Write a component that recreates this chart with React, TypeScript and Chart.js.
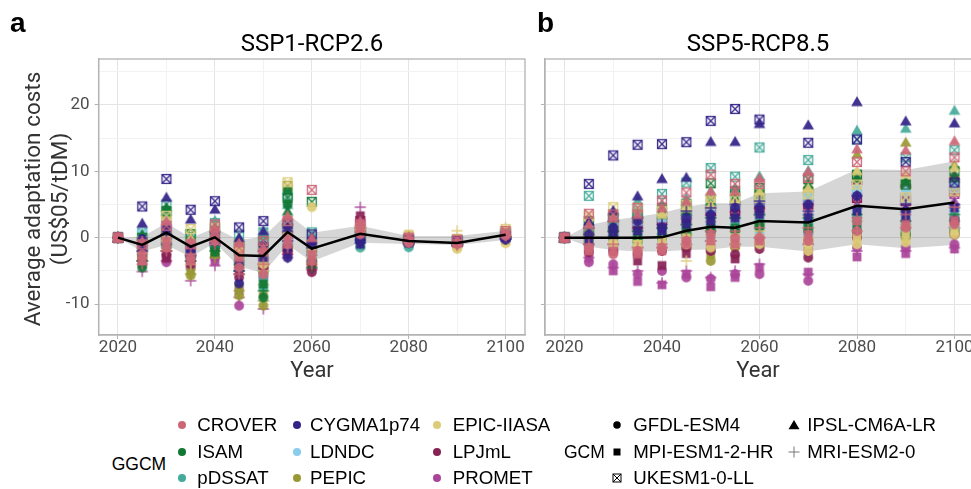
import React, { useEffect, useRef } from "react";
import { Chart, registerables } from "chart.js";
Chart.register(...registerables);

// ---------------- DATA ----------------
const YEARS = [2020, 2025, 2030, 2035, 2040, 2045, 2050, 2055, 2060, 2070, 2080, 2090, 2100];
const GGCMS = ["CROVER", "CYGMA1p74", "EPIC-IIASA", "ISAM", "LDNDC", "LPJmL", "pDSSAT", "PEPIC", "PROMET"];
const GGCM_COLORS = ["#CC6677", "#332288", "#DDCC77", "#117733", "#88CCEE", "#882255", "#44AA99", "#999933", "#AA4499"];
const GCMS = ["GFDL-ESM4", "MPI-ESM1-2-HR", "UKESM1-0-LL", "IPSL-CM6A-LR", "MRI-ESM2-0"];
const GCM_SHAPES = ["circle", "square", "boxcross", "triangle", "plus"];
const X_TICKS = [2020, 2040, 2060, 2080, 2100];
const Y_TICKS = [-10, 0, 10, 20];

// SSP1-RCP2.6 : per GGCM, rows = GFDL, MPI, UKESM, IPSL, MRI
const SSP1_CROVER = [
  [0, -2.5, -1.5, -3.0, -0.5, -4.5, -5.5, -1.0, -3.5, 0.5, -0.8, -1.0, 0.3],
  [0, -3.5, -0.5, -3.5, 0.5, -3.0, -2.2, 0.0, -2.5, 1.5, -0.5, -0.8, 0.5],
  [0, -1.0, 1.8, -1.0, 2.0, -1.5, -0.5, 2.5, 7.2, 2.0, 0.0, -0.3, 1.0],
  [0, -0.5, 2.5, -0.5, 1.5, -0.8, -1.5, 3.3, 0.0, 2.5, 0.2, -0.5, 0.8],
  [0, -4.0, -2.0, -2.5, -1.0, -5.5, -4.0, -1.5, -4.0, 1.0, -0.7, -1.2, 0.2],
];
const SSP1_CYGMA = [
  [0, -0.2, 1.5, -2.0, 0.65, -6.9, -1.2, -3.0, -1.0, -0.5, -0.6, -0.8, -0.3],
  [0, -1.5, 1.05, -1.5, -0.5, -4.0, -3.0, -1.5, -0.5, -1.0, -0.8, -0.7, 0.0],
  [0, 4.7, 8.85, 4.2, 5.5, 1.55, 2.5, 2.1, 0.5, 0.0, -0.3, -0.5, 0.2],
  [0, 2.2, 6.1, 2.8, 4.3, 0.0, 1.05, 1.5, -0.2, 0.3, -0.4, -0.6, 0.4],
  [0, -2.0, 0.5, -2.8, -0.8, -5.0, -2.0, -0.5, -1.5, -0.8, -0.7, -0.9, -0.2],
];
const SSP1_EPIC = [
  [0, -2.0, 0.0, -1.5, 0.5, -3.5, -4.0, 0.5, 4.6, 0.5, -0.3, -1.7, -0.85],
  [0, -1.8, 1.0, -2.0, 0.8, -2.5, -3.0, 1.0, -2.0, 1.0, 0.55, -1.3, -0.5],
  [0, -0.5, 3.3, 1.3, 1.5, -1.0, -2.0, 8.35, -0.5, 1.5, 0.3, -0.2, 1.3],
  [0, -1.0, 2.0, 0.0, 1.0, -1.5, -3.5, 3.0, -1.0, 2.0, 0.0, 0.0, 1.0],
  [0, -3.0, -0.5, -4.0, -0.5, -4.5, -5.0, -1.0, -3.0, 0.0, -0.5, 1.05, 1.55],
];
const SSP1_ISAM = [
  [0, -4.5, 0.0, -3.0, -1.5, -4.0, -9.0, 5.0, -3.5, -0.2, -0.7, -1.0, 0.0],
  [0, -2.5, 0.5, -2.5, -2.2, -3.0, -7.0, 7.1, -2.0, 0.5, -0.5, -0.8, 0.2],
  [0, 0.0, 4.0, 0.5, 1.0, -1.0, -0.5, 6.0, 5.4, 1.0, 0.0, -0.3, 0.5],
  [0, 0.5, 4.6, 0.0, 1.5, -0.5, -1.0, 4.0, -0.5, 1.5, -0.2, -0.5, 0.6],
  [0, -3.5, -1.0, -3.5, -2.0, -5.0, -8.0, 2.0, -4.5, 0.2, -0.6, -0.9, 0.1],
];
const SSP1_LDNDC = [
  [0, -1.5, -0.5, -2.0, -1.0, -3.0, -2.5, -0.5, -2.5, 0.0, -0.6, -0.8, 0.2],
  [0, -1.0, 0.0, -1.5, -0.5, -2.5, -2.0, 0.0, -2.0, 0.5, -0.4, -0.6, 0.3],
  [0, 0.5, 2.0, 0.0, 1.0, -1.5, -1.0, 1.5, -0.5, 1.0, -0.2, -0.4, 0.6],
  [0, 0.0, 2.5, -0.5, 1.5, -1.0, -1.5, 2.5, -1.0, 1.2, -0.3, -0.5, 0.5],
  [0, -2.0, -1.0, -2.5, -1.5, -3.5, -3.0, -1.0, -3.0, 0.3, -0.5, -0.7, 0.2],
];
const SSP1_LPJML = [
  [0, -3.0, -2.5, -4.0, -1.5, -6.0, -4.5, -2.0, -5.2, 1.0, -0.8, -1.1, 0.0],
  [0, -2.5, -3.1, -3.0, -1.0, -5.0, -3.5, -1.5, -4.5, 3.3, -0.6, -0.9, 0.3],
  [0, -1.0, -0.5, -1.5, 0.5, -2.0, -1.5, 1.0, -2.0, 2.5, -0.2, -0.5, 0.7],
  [0, -1.5, 0.0, -2.0, 0.0, -3.0, -2.5, 0.5, -3.0, 2.0, -0.4, -0.7, 0.5],
  [0, -3.5, -2.0, -3.5, -1.2, -5.5, -4.0, -2.5, -4.8, 1.5, -0.7, -1.0, 0.1],
];
const SSP1_PDSSAT = [
  [0, -2.0, -1.0, -2.5, -0.5, -3.5, -7.5, -0.5, -3.0, -1.5, -1.45, -1.0, 0.0],
  [0, -1.5, 0.0, -2.0, 0.0, -3.0, -6.0, 1.0, -2.5, -1.0, -1.0, -0.8, 0.2],
  [0, 0.8, 5.0, 0.55, 2.2, 0.45, 0.8, 6.3, 0.8, 0.8, -0.2, -0.3, 0.8],
  [0, 0.3, 4.0, 0.0, 2.6, -0.3, 0.5, 5.0, 0.3, 0.5, -0.4, -0.5, 0.6],
  [0, -2.5, -1.5, -3.0, -1.0, -4.0, -5.0, -1.0, -3.5, -0.5, -0.8, -0.9, 0.1],
];
const SSP1_PEPIC = [
  [0, -3.0, -1.5, -5.7, -2.5, -8.7, -10.25, -1.5, -4.0, 0.0, -0.6, -0.9, 0.0],
  [0, -2.5, -1.0, -5.0, -2.0, -7.5, -8.5, -1.0, -3.5, 0.3, -0.5, -0.8, 0.2],
  [0, -0.5, 2.5, 0.5, 1.0, -2.5, -4.7, 7.8, -1.0, 1.0, -0.2, -0.4, 0.6],
  [0, -1.0, 1.5, -1.0, 0.5, -3.5, -6.5, 2.5, -1.5, 0.8, -0.3, -0.6, 0.4],
  [0, -3.5, -2.0, -5.5, -3.0, -8.0, -9.5, -2.0, -4.0, -0.3, -0.7, -1.0, 0.0],
];
const SSP1_PROMET = [
  [0, -4.0, -3.7, -4.5, -3.0, -10.25, -6.0, -2.5, -4.0, 0.5, -0.9, -1.2, 0.0],
  [0, -3.5, -3.0, -4.0, -3.6, -8.0, -5.0, -2.0, -3.5, 1.0, -0.7, -1.0, 0.2],
  [0, -1.0, 1.0, -1.0, 0.5, -3.0, -3.0, 1.0, -1.0, 2.0, -0.3, -0.5, 0.5],
  [0, -1.5, 0.5, -2.0, 0.0, -4.0, -4.0, 0.5, -2.0, 1.5, -0.4, -0.6, 0.4],
  [0, -5.1, -3.5, -6.5, -4.2, -9.0, -10.75, -3.0, -4.5, 4.6, -0.8, -1.1, 0.1],
];
const SSP1_MEAN = [0, -1.1, 0.75, -1.35, 0.05, -2.65, -2.75, 0.85, -1.65, 0.6, -0.5, -0.8, 0.45];
const SSP1_LOW = [0, -2.1, -1.1, -2.9, -0.8, -4.4, -5.3, -1.1, -3.6, -0.75, -0.95, -1.1, -0.35];
const SSP1_HIGH = [0, 0.15, 2.2, 0.0, 1.45, -0.35, 0.15, 3.6, 0.75, 1.8, 0.25, 0.25, 1.05];

// SSP5-RCP8.5
const SSP5_CROVER = [
  [0, -1.5, -2.5, -2.0, -1.5, -0.5, 0.5, 0.0, 0.0, -0.5, 1.0, 1.5, 2.0],
  [0, -2.0, -2.0, -2.5, -2.0, -1.0, -0.5, -1.0, -0.5, 0.5, 2.5, 2.0, 2.6],
  [0, 3.6, 3.5, 4.5, 5.6, 6.8, 9.5, 8.1, 8.1, 9.0, 11.4, 10.0, 12.1],
  [0, 2.0, 3.0, 3.5, 4.5, 5.5, 7.0, 7.0, 9.0, 10.0, 13.4, 13.2, 14.6],
  [0, -1.0, -1.0, -1.5, -1.0, 0.0, 1.0, 1.0, 1.5, 1.5, 3.0, 3.5, 4.6],
];
const SSP5_CYGMA = [
  [0, 0.5, 1.5, 2.5, 1.5, 3.0, 3.5, 4.5, 4.6, 5.0, 6.3, 4.0, 2.6],
  [0, -0.5, 0.5, 1.0, 1.0, 2.0, 2.5, 3.0, 3.5, 3.0, 4.0, 3.0, 4.5],
  [0, 8.1, 12.4, 14.0, 14.1, 14.4, 17.6, 19.4, 17.8, 14.3, 14.8, 11.4, 8.3],
  [0, 2.5, 4.1, 6.3, 8.9, 9.1, 14.5, 14.5, 17.2, 17.0, 20.5, 17.6, 17.3],
  [0, 1.5, 2.5, 3.0, 2.0, 4.0, 4.5, 5.0, 5.5, 4.0, 6.3, 5.0, 5.0],
];
const SSP5_EPIC = [
  [0, -0.5, -1.0, -1.5, -1.5, -1.0, -1.5, -1.0, -1.0, -2.0, -1.0, -0.7, 0.5],
  [0, 0.5, -0.5, -1.0, -0.5, 0.0, -0.5, 0.0, 0.0, -1.0, 0.0, 0.5, 1.0],
  [0, 3.2, 4.6, 4.5, 4.0, 5.0, 6.0, 6.0, 6.0, 6.5, 8.0, 6.1, 7.0],
  [0, 2.0, 3.0, 3.0, 3.5, 4.5, 5.0, 5.5, 7.0, 7.5, 10.1, 9.6, 10.6],
  [0, 0.0, 0.0, -0.5, 0.0, -3.5, 0.5, 0.5, 1.0, 0.0, 1.0, 1.5, 2.0],
];
const SSP5_ISAM = [
  [0, -0.5, 0.0, -0.5, 0.0, 0.5, 1.0, 1.0, 1.5, 1.0, 1.0, 0.5, 1.0],
  [0, 0.0, 0.5, 0.0, 0.5, 1.0, 1.5, 1.5, 2.0, 1.5, 2.0, 1.0, 2.5],
  [0, 2.5, 3.0, 3.5, 4.5, 5.1, 8.2, 7.0, 7.5, 8.8, 9.5, 8.0, 10.0],
  [0, 1.5, 2.0, 3.0, 3.5, 4.0, 5.5, 6.0, 7.0, 8.0, 9.0, 8.5, 9.0],
  [0, 0.5, 1.0, 1.0, 1.5, 2.0, 3.0, 3.0, 3.5, 3.0, 3.5, 2.5, 3.5],
];
const SSP5_LDNDC = [
  [0, -0.8, -1.0, -1.5, -1.0, -0.5, 0.0, 0.0, 0.5, 0.5, 1.5, 1.0, 1.5],
  [0, -0.3, -0.5, -1.0, -0.5, 0.0, 0.5, 0.5, 1.0, 1.0, 2.0, 1.5, 2.0],
  [0, 2.0, 2.5, 3.0, 3.5, 4.0, 5.0, 5.5, 6.0, 6.0, 7.0, 6.0, 7.5],
  [0, 1.5, 2.0, 2.5, 3.0, 3.5, 4.5, 5.0, 5.5, 6.5, 7.7, 7.5, 8.0],
  [0, 0.0, 0.5, 0.0, 0.5, 1.0, 1.5, 2.0, 2.5, 2.5, 4.0, 3.5, 4.0],
];
const SSP5_LPJML = [
  [0, -2.2, -2.0, -2.5, -2.0, -1.5, -2.0, -2.5, -1.7, -3.0, 0.0, 0.5, 0.5],
  [0, -1.5, -1.5, -3.5, -4.2, -2.4, -1.5, -3.2, -1.0, -2.0, 0.5, 1.0, 1.0],
  [0, 1.0, 1.5, 2.0, 2.5, 3.0, 4.0, 4.0, 4.5, 5.0, 6.0, 5.5, 7.0],
  [0, 1.0, 1.5, 2.0, 3.0, 3.5, 4.0, 4.5, 5.0, 5.6, 8.7, 8.2, 9.4],
  [0, -1.0, -1.0, -1.5, -1.5, -1.0, -0.5, -1.0, 0.0, -1.0, 1.0, 1.5, 1.5],
];
const SSP5_PDSSAT = [
  [0, -0.5, 0.0, -0.5, 0.0, 1.0, 1.0, 1.5, 2.0, 2.0, 3.0, 2.5, 3.0],
  [0, 0.0, 0.5, 0.5, 1.0, 1.5, 2.0, 2.0, 2.5, 2.5, 3.5, 3.0, 3.5],
  [0, 6.3, 3.5, 4.0, 6.6, 8.3, 10.5, 9.2, 13.6, 11.7, 14.8, 12.1, 13.2],
  [0, 2.0, 3.0, 5.6, 5.0, 6.0, 7.0, 7.5, 9.3, 10.1, 16.2, 16.5, 19.2],
  [0, 0.5, 1.0, 1.5, 1.5, 2.0, 3.0, 3.0, 3.5, 3.5, 4.5, 4.0, 4.5],
];
const SSP5_PEPIC = [
  [0, -1.0, -1.0, -1.5, -1.0, -1.5, -3.5, -1.5, -1.0, -0.5, 0.0, 0.0, 0.5],
  [0, -0.5, -0.5, -1.0, -0.5, -1.0, -2.5, -1.0, -0.5, 0.0, 1.0, 0.5, 1.0],
  [0, 2.5, 3.0, 3.5, 4.0, 4.5, 5.5, 6.0, 6.5, 7.0, 9.0, 8.0, 8.5],
  [0, 2.0, 2.5, 3.0, 3.5, 4.0, 5.0, 5.5, 6.5, 7.5, 12.6, 14.4, 11.0],
  [0, 0.0, 0.0, 0.0, 0.5, 0.5, 1.0, 1.5, 2.0, 1.5, 2.5, 2.0, 2.5],
];
const SSP5_PROMET = [
  [0, -3.7, -4.0, -5.5, -5.0, -6.0, -6.2, -5.5, -5.5, -6.5, -1.5, -1.5, -1.0],
  [0, -3.0, -5.0, -6.6, -7.1, -5.5, -7.4, -6.0, -4.5, -5.2, -2.9, -2.4, -1.7],
  [0, 1.0, 2.0, 2.5, 3.0, 3.5, 4.0, 4.0, 5.0, 5.0, 6.0, 6.0, 6.6],
  [0, 0.5, 1.0, 1.5, 2.0, 2.5, 3.0, 3.5, 4.0, 4.0, 5.0, 4.5, 5.5],
  [0, -3.0, -4.5, -5.0, -6.8, -5.0, -6.0, -5.0, -4.0, -5.5, -2.0, -2.0, -1.5],
];
const SSP5_MEAN = [0, 0.0, 0.0, 0.0, 0.05, 1.05, 1.65, 1.5, 2.5, 2.3, 4.8, 4.3, 5.3];
const SSP5_LOW = [0, -1.35, -1.85, -2.1, -2.1, -1.85, -1.8, -1.35, -1.35, -2.1, -1.0, -1.6, -1.1];
const SSP5_HIGH = [0, 1.9, 2.65, 3.15, 3.7, 4.65, 5.2, 5.2, 6.7, 6.95, 10.3, 10.2, 11.5];

const SSP1_ALL = [SSP1_CROVER, SSP1_CYGMA, SSP1_EPIC, SSP1_ISAM, SSP1_LDNDC, SSP1_LPJML, SSP1_PDSSAT, SSP1_PEPIC, SSP1_PROMET];
const SSP5_ALL = [SSP5_CROVER, SSP5_CYGMA, SSP5_EPIC, SSP5_ISAM, SSP5_LDNDC, SSP5_LPJML, SSP5_PDSSAT, SSP5_PEPIC, SSP5_PROMET];

// ---------------- STYLE ----------------
const GRID_MAJOR = "#E4E4E4";
const GRID_MINOR = "#F2F2F2";
const BORDER = "#B3B3B3";
const TICK_TEXT = "#4D4D4D";

function makeSymbol(shape: string, color: string, alpha: number): HTMLCanvasElement {
  const S = 16;
  const c = document.createElement("canvas");
  c.width = S;
  c.height = S;
  const ctx = c.getContext("2d")!;
  ctx.globalAlpha = alpha;
  ctx.fillStyle = color;
  ctx.strokeStyle = color;
  const m = S / 2;
  if (shape === "circle") {
    ctx.beginPath();
    ctx.arc(m, m, 4.9, 0, Math.PI * 2);
    ctx.fill();
  } else if (shape === "square") {
    ctx.fillRect(m - 4.4, m - 4.4, 8.8, 8.8);
  } else if (shape === "triangle") {
    ctx.beginPath();
    ctx.moveTo(m, m - 5.6);
    ctx.lineTo(m + 5.8, m + 4.4);
    ctx.lineTo(m - 5.8, m + 4.4);
    ctx.closePath();
    ctx.fill();
  } else if (shape === "plus") {
    ctx.lineWidth = 1.4;
    ctx.beginPath();
    ctx.moveTo(m - 5.6, m);
    ctx.lineTo(m + 5.6, m);
    ctx.moveTo(m, m - 5.6);
    ctx.lineTo(m, m + 5.6);
    ctx.stroke();
  } else {
    ctx.lineWidth = 1.4;
    ctx.strokeRect(m - 4.4, m - 4.4, 8.8, 8.8);
    ctx.beginPath();
    ctx.moveTo(m - 4.4, m - 4.4);
    ctx.lineTo(m + 4.4, m + 4.4);
    ctx.moveTo(m + 4.4, m - 4.4);
    ctx.lineTo(m - 4.4, m + 4.4);
    ctx.stroke();
  }
  return c;
}

const borderPlugin = {
  id: "panelBorder",
  afterDraw(chart: any) {
    const { ctx, chartArea: a } = chart;
    ctx.save();
    ctx.strokeStyle = BORDER;
    ctx.lineWidth = 1.3;
    ctx.strokeRect(a.left, a.top, a.right - a.left, a.bottom - a.top);
    ctx.restore();
  },
};

function buildConfig(all: number[][][], mean: number[], low: number[], high: number[], showY: boolean, yWidth: number, rightPad: number) {
  const datasets: any[] = [];
  datasets.push({
    type: "line",
    data: YEARS.map((x, i) => ({ x, y: high[i] })),
    borderColor: "transparent",
    borderWidth: 0,
    pointRadius: 0,
    fill: "+1",
    backgroundColor: "rgba(0,0,0,0.16)",
    order: 100,
  });
  datasets.push({
    type: "line",
    data: YEARS.map((x, i) => ({ x, y: low[i] })),
    borderColor: "transparent",
    borderWidth: 0,
    pointRadius: 0,
    fill: false,
    order: 100,
  });
  all.forEach((gcmRows, gi) => {
    gcmRows.forEach((vals, si) => {
      const sym = makeSymbol(GCM_SHAPES[si], GGCM_COLORS[gi], 0.92);
      datasets.push({
        type: "scatter",
        label: GGCMS[gi] + " " + GCMS[si],
        data: YEARS.map((x, i) => ({ x, y: vals[i] })),
        pointStyle: sym,
        pointRadius: 4,
        showLine: false,
        clip: false,
        order: 10 + gi,
      });
    });
  });
  datasets.push({
    type: "line",
    data: YEARS.map((x, i) => ({ x, y: mean[i] })),
    borderColor: "#000000",
    borderWidth: 2.5,
    pointRadius: 0,
    fill: false,
    tension: 0,
    order: 0,
  });

  return {
    type: "scatter",
    data: { datasets },
    plugins: [borderPlugin],
    options: {
      responsive: false,
      animation: false,
      events: [],
      layout: { padding: { top: 59, right: rightPad, left: 0, bottom: 0 } },
      plugins: { legend: { display: false }, tooltip: { enabled: false }, title: { display: false } },
      scales: {
        x: {
          type: "linear",
          min: 2016,
          max: 2104,
          afterFit: (s: any) => {
            s.height = 65;
            s.paddingLeft = 0;
            s.paddingRight = 0;
          },
          ticks: {
            stepSize: 10,
            includeBounds: false,
            autoSkip: false,
            maxRotation: 0,
            padding: -1,
            color: TICK_TEXT,
            font: { family: "Roboto", size: 17 },
            callback: (v: number) => (X_TICKS.includes(v) ? String(v) : ""),
          },
          grid: {
            color: (c: any) => (c.tick && X_TICKS.includes(c.tick.value) ? GRID_MAJOR : GRID_MINOR),
            lineWidth: 1,
            tickLength: 4,
            tickColor: (c: any) => (c.tick && X_TICKS.includes(c.tick.value) ? BORDER : "rgba(0,0,0,0)"),
          },
          border: { display: true, color: BORDER, width: 1.3 },
        },
        y: {
          type: "linear",
          min: -14.67,
          max: 26.93,
          afterFit: (s: any) => {
            s.width = yWidth;
            s.paddingTop = 0;
            s.paddingBottom = 0;
          },
          ticks: {
            stepSize: 5,
            includeBounds: false,
            autoSkip: false,
            padding: 5,
            color: TICK_TEXT,
            font: { family: "Roboto", size: 17 },
            callback: (v: number) => (showY && Y_TICKS.includes(v) ? String(v) : ""),
          },
          grid: {
            color: (c: any) => (c.tick && Y_TICKS.includes(c.tick.value) ? GRID_MAJOR : GRID_MINOR),
            lineWidth: 1,
            tickLength: 4,
            tickColor: (c: any) => (c.tick && Y_TICKS.includes(c.tick.value) ? BORDER : "rgba(0,0,0,0)"),
          },
          border: { display: true, color: BORDER, width: 1.3 },
        },
      },
    },
  };
}

function Panel(props: { all: number[][][]; mean: number[]; low: number[]; high: number[]; showY: boolean; yWidth: number; rightPad: number; left: number; width: number }) {
  const ref = useRef<HTMLCanvasElement | null>(null);
  useEffect(() => {
    if (!ref.current) return;
    const chart = new Chart(ref.current, buildConfig(props.all, props.mean, props.low, props.high, props.showY, props.yWidth, props.rightPad) as any);
    return () => chart.destroy();
  }, []);
  return (
    <canvas
      ref={ref}
      width={props.width}
      height={400}
      style={{ position: "absolute", left: props.left, top: 0, width: props.width, height: 400 }}
    />
  );
}

function LegendSymbol({ shape, color, size }: { shape: string; color: string; size: number }) {
  const s = 14;
  const m = 7;
  let el: any = null;
  if (shape === "circle") el = <circle cx={m} cy={m} r={size / 2} fill={color} />;
  else if (shape === "square") el = <rect x={m - size / 2} y={m - size / 2} width={size} height={size} fill={color} />;
  else if (shape === "triangle")
    el = <polygon points={`${m},${m - 5} ${m + 5.5},${m + 4.2} ${m - 5.5},${m + 4.2}`} fill={color} />;
  else if (shape === "plus")
    el = (
      <path d={`M${m - 5.5},${m} L${m + 5.5},${m} M${m},${m - 5.5} L${m},${m + 5.5}`} stroke={color} strokeWidth={1} fill="none" />
    );
  else
    el = (
      <g stroke={color} strokeWidth={1} fill="none">
        <rect x={m - 4} y={m - 4} width={8} height={8} />
        <path d={`M${m - 4},${m - 4} L${m + 4},${m + 4} M${m + 4},${m - 4} L${m - 4},${m + 4}`} />
      </g>
    );
  return (
    <svg width={s} height={s} style={{ position: "absolute", left: -7, top: -7 }}>
      {el}
    </svg>
  );
}

const legendFont = "'Liberation Sans', Arial, sans-serif";

function LegendItem({ sx, tx, cy, label, shape, color, size }: any) {
  return (
    <>
      <div style={{ position: "absolute", left: sx, top: cy, width: 0, height: 0 }}>
        <LegendSymbol shape={shape} color={color} size={size} />
      </div>
      <div
        style={{
          position: "absolute",
          left: tx,
          top: cy - 10,
          height: 20,
          lineHeight: "20px",
          fontSize: 18.7,
          fontFamily: legendFont,
          color: "#000",
          whiteSpace: "nowrap",
        }}
      >
        {label}
      </div>
    </>
  );
}

export default function App() {
  const rows = [425, 451.7, 478];
  const ggcmSX = [181.7, 296.5, 437];
  const ggcmTX = [197.3, 310, 452.7];
  const gcmPos = [
    { sx: 617, tx: 633.3, cy: rows[0], i: 0 },
    { sx: 794, tx: 807.3, cy: rows[0], i: 3 },
    { sx: 617, tx: 633.3, cy: rows[1], i: 1 },
    { sx: 794, tx: 807.3, cy: rows[1], i: 4 },
    { sx: 617, tx: 633.3, cy: rows[2], i: 2 },
  ];
  const textBase: any = { position: "absolute", whiteSpace: "nowrap" };
  return (
    <div style={{ position: "fixed", left: 0, top: 0, width: 971, height: 489, overflow: "hidden", background: "#fff" }}>
      <Panel all={SSP1_ALL} mean={SSP1_MEAN} low={SSP1_LOW} high={SSP1_HIGH} showY={true} yWidth={98.6} rightPad={4.6} left={0} width={530} />
      <Panel all={SSP5_ALL} mean={SSP5_MEAN} low={SSP5_LOW} high={SSP5_HIGH} showY={false} yWidth={15} rightPad={3.3} left={530} width={449} />

      {/* panel letters */}
      <div style={{ ...textBase, left: 10, top: 9, fontSize: 28, lineHeight: "28px", fontWeight: "bold", fontFamily: legendFont, color: "#000" }}>a</div>
      <div style={{ ...textBase, left: 537, top: 9, fontSize: 28, lineHeight: "28px", fontWeight: "bold", fontFamily: legendFont, color: "#000" }}>b</div>

      {/* panel titles */}
      <div style={{ ...textBase, left: 312, top: 42.5 - 12, transform: "translateX(-50%)", fontSize: 24, lineHeight: "24px", fontFamily: "Roboto", color: "#000" }}>SSP1-RCP2.6</div>
      <div style={{ ...textBase, left: 758, top: 42.5 - 12, transform: "translateX(-50%)", fontSize: 24, lineHeight: "24px", fontFamily: "Roboto", color: "#000" }}>SSP5-RCP8.5</div>

      {/* x titles */}
      <div style={{ ...textBase, left: 312, top: 370 - 11, transform: "translateX(-50%)", fontSize: 22, lineHeight: "22px", fontFamily: "Roboto", color: "#333" }}>Year</div>
      <div style={{ ...textBase, left: 758, top: 370 - 11, transform: "translateX(-50%)", fontSize: 22, lineHeight: "22px", fontFamily: "Roboto", color: "#333" }}>Year</div>

      {/* y title */}
      <div style={{ ...textBase, left: 32, top: 199, transform: "translate(-50%,-50%) rotate(-90deg)", fontSize: 22.5, lineHeight: "22px", fontFamily: "Roboto", color: "#333" }}>Average adaptation costs</div>
      <div style={{ ...textBase, left: 59, top: 199, transform: "translate(-50%,-50%) rotate(-90deg)", fontSize: 22.5, lineHeight: "22px", fontFamily: "Roboto", color: "#333" }}>(US$05/tDM)</div>

      {/* GGCM legend */}
      <div style={{ ...textBase, left: 111.7, top: 463.7 - 9, height: 18, lineHeight: "18px", fontSize: 17.5, fontFamily: legendFont, color: "#000" }}>GGCM</div>
      {GGCMS.map((g, i) => (
        <LegendItem key={g} sx={ggcmSX[i % 3]} tx={ggcmTX[i % 3]} cy={rows[Math.floor(i / 3)]} label={g} shape="circle" color={GGCM_COLORS[i]} size={8} />
      ))}

      {/* GCM legend */}
      <div style={{ ...textBase, left: 564, top: 451.7 - 9, height: 18, lineHeight: "18px", fontSize: 17.5, fontFamily: legendFont, color: "#000" }}>GCM</div>
      {gcmPos.map((p) => (
        <LegendItem key={GCMS[p.i]} sx={p.sx} tx={p.tx} cy={p.cy} label={GCMS[p.i]} shape={GCM_SHAPES[p.i]} color={p.i === 4 ? "#777" : "#000"} size={p.i === 0 ? 7.5 : 7} />
      ))}
    </div>
  );
}
